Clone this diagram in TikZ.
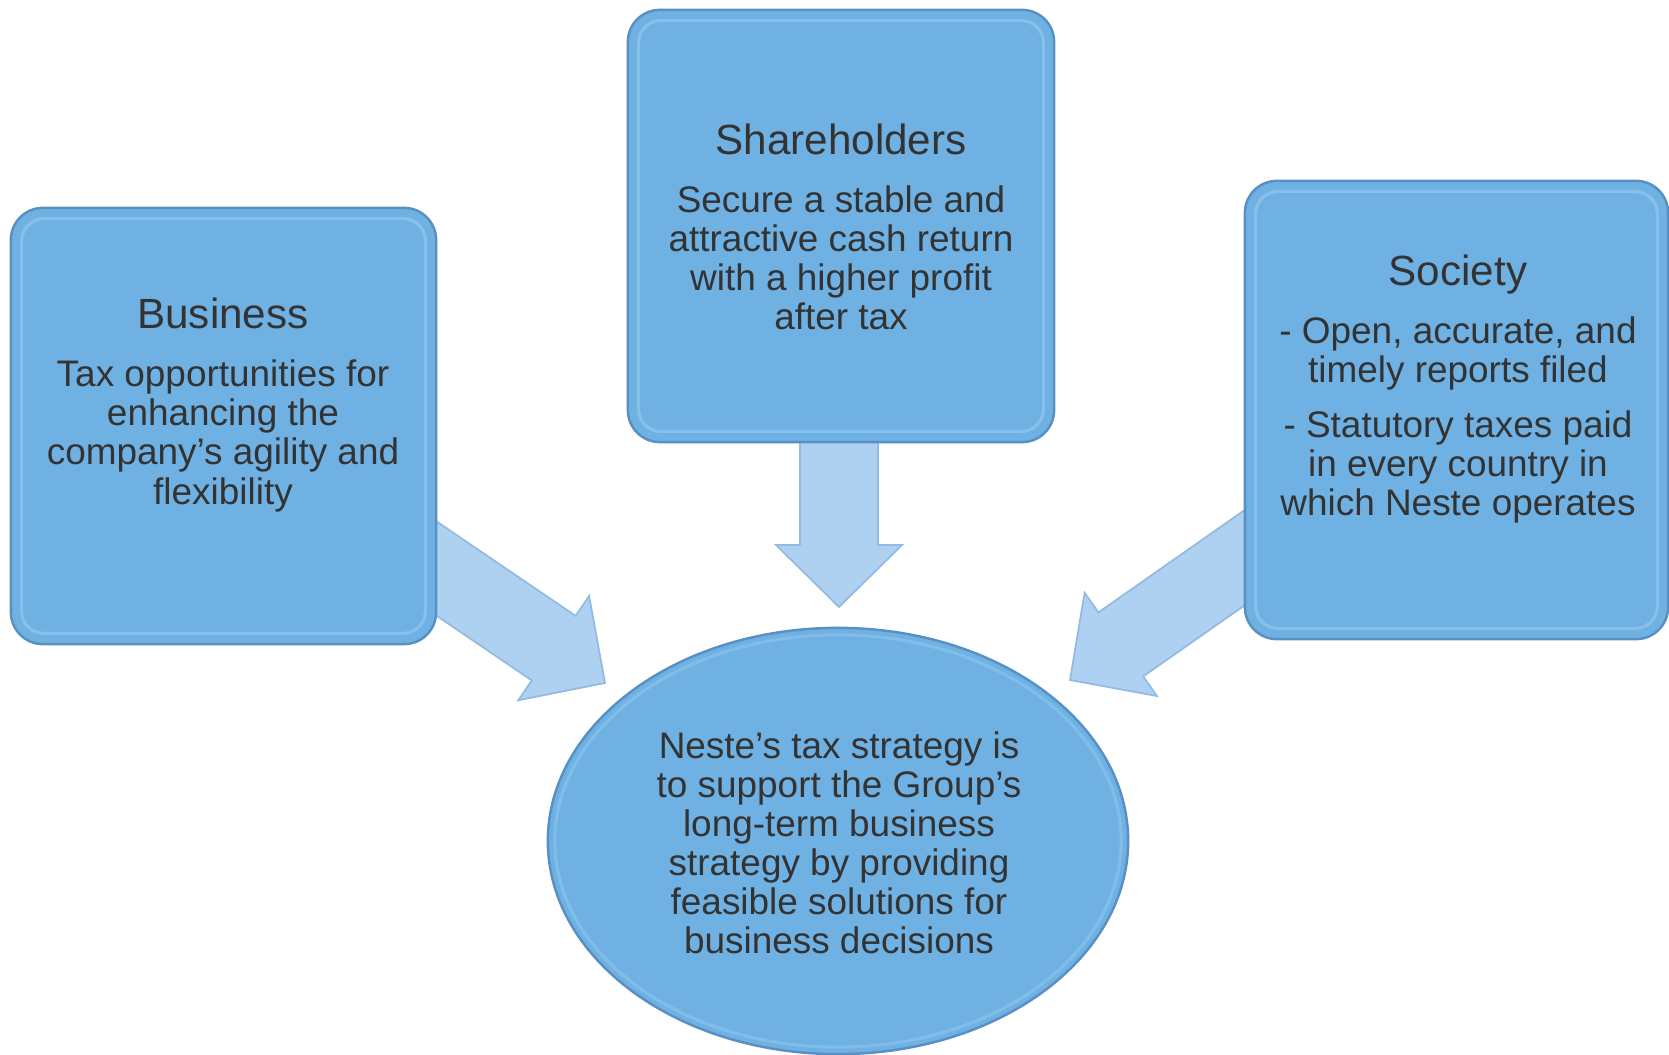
\documentclass[tikz,border=0pt]{standalone}
\usepackage{fontspec}
\setmainfont{Liberation Sans}
\usetikzlibrary{shapes.geometric, calc}
\definecolor{boxfill}{HTML}{6FB1E3}
\definecolor{boxline}{HTML}{5890C4}
\definecolor{boxhi}{HTML}{A3D4F6}
\definecolor{arrowfill}{HTML}{AED1F2}
\definecolor{arrowline}{HTML}{93BBDF}
\definecolor{txt}{HTML}{333333}
\tikzstyle{stake} = [rectangle, rounded corners=0.32cm, minimum width=4.25cm, minimum height=4.36cm, inner sep=0, draw=boxline, line width=0.7pt, fill=boxfill]
\tikzstyle{strategy} = [ellipse, minimum width=5.8cm, minimum height=4.26cm, inner sep=0, draw=boxline, line width=0.7pt, fill=boxfill]
\tikzstyle{bevel} = [draw=boxhi, line width=0.9pt, rounded corners=0.22cm, opacity=0.45]
\tikzstyle{boxtext} = [text=txt, align=center, inner sep=0, font=\fontsize{10.5}{11.1}\selectfont]
\tikzstyle{arrowbody} = [fill=arrowfill, draw=arrowline, line width=0.5pt, line join=miter]
\newcommand{\boxtitle}[1]{{\fontsize{12}{14}\selectfont #1}}
% block arrow: #1 tail, #2 tip, #3 name of the head base
\newcommand{\blockarrow}[3]{%
  \coordinate (#3base) at ($(#2)!0.62cm!(#1)$);
  \filldraw[arrowbody] ($(#1)!0.39cm!90:(#2)$) -- ($(#3base)!0.39cm!90:(#2)$) -- ($(#3base)!0.63cm!90:(#2)$) -- (#2)
    -- ($(#3base)!0.63cm!-90:(#2)$) -- ($(#3base)!0.39cm!-90:(#2)$) -- ($(#1)!0.39cm!-90:(#2)$) -- cycle;
}
\begin{document}
\begin{tikzpicture}[x=0.01cm, y=-0.01cm]
\useasboundingbox (0,0) rectangle (1669,1055);

% arrows behind the boxes
\coordinate (bustail) at (396,541);
\coordinate (bustip) at (605,683);
\coordinate (shatail) at (839,400);
\coordinate (shatip) at (839,607);
\coordinate (soctail) at (1277,535);
\coordinate (soctip) at (1070,680);
\blockarrow{bustail}{bustip}{bus}
\blockarrow{shatail}{shatip}{sha}
\blockarrow{soctail}{soctip}{soc}

% boxes
\node (business) [stake] at (223.5,426) {};
\node (shareholders) [stake, minimum width=4.26cm, minimum height=4.32cm] at (841,226) {};
\node (society) [stake, minimum width=4.23cm, minimum height=4.58cm] at (1456.5,410) {};
\node (strategy) [strategy] at (838,841) {};

\draw[bevel] ([shift={(12,12)}]business.north west) rectangle ([shift={(-12,-12)}]business.south east);
\draw[bevel] ([shift={(12,12)}]shareholders.north west) rectangle ([shift={(-12,-12)}]shareholders.south east);
\draw[bevel] ([shift={(12,12)}]society.north west) rectangle ([shift={(-12,-12)}]society.south east);
\draw[bevel, opacity=0.35] (strategy.center) ellipse [x radius=2.83cm, y radius=2.06cm];

% texts
\node (bustext) [boxtext] at (223,405) {\boxtitle{Business}\\[5.4pt]
  Tax opportunities for\\ enhancing the\\ company’s agility and\\ flexibility};
\node (shatext) [boxtext] at (841,227) {\boxtitle{Shareholders}\\[5.4pt]
  Secure a stable and\\ attractive cash return\\ with a higher profit\\ after tax};
\node (soctext) [boxtext] at (1458,389) {\boxtitle{Society}\\[5.4pt]
  - Open, accurate, and\\ timely reports filed\\[4.5pt]
  - Statutory taxes paid\\ in every country in\\ which Neste operates};
\node (stratext) [boxtext] at (839,843) {Neste’s tax strategy is\\ to support the Group’s\\ long-term business\\
  strategy by providing\\ feasible solutions for\\ business decisions};

\end{tikzpicture}
\end{document}
